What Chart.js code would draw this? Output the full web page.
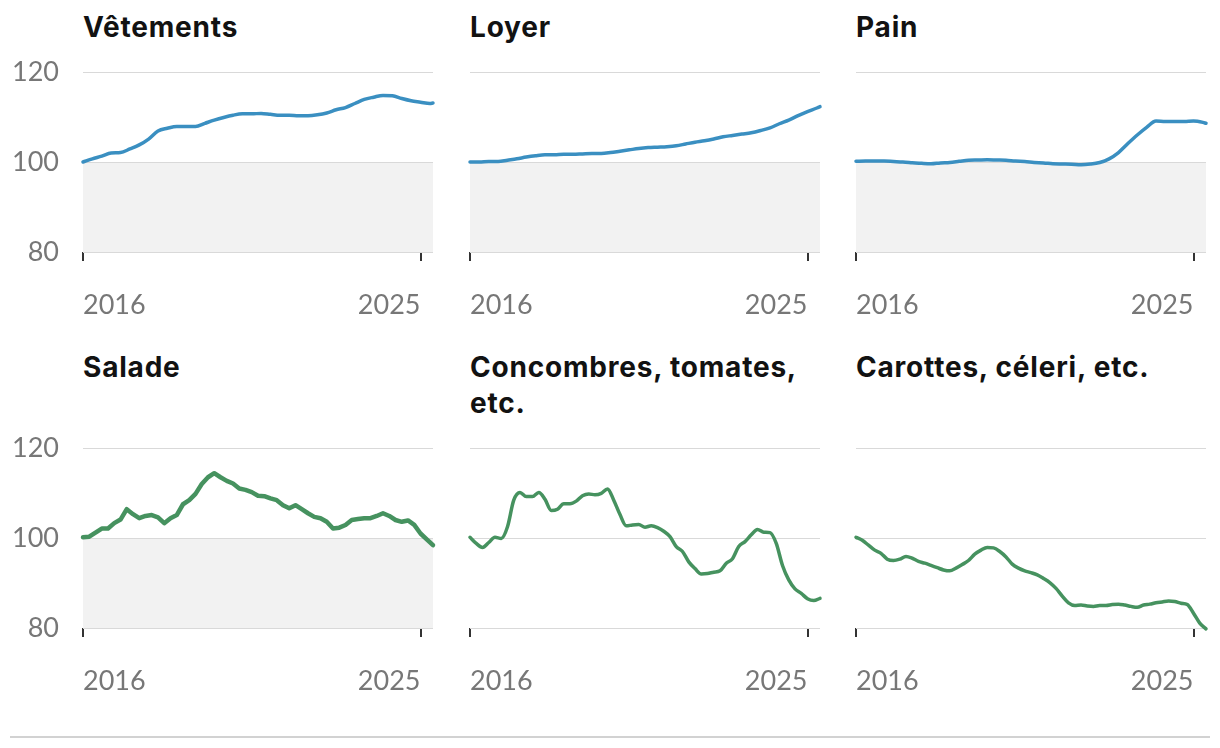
<!DOCTYPE html>
<html>
<head>
<meta charset="utf-8">
<script src="https://cdn.jsdelivr.net/npm/chart.js@4/dist/chart.umd.min.js"></script>
<style>
  body { margin: 0; background: #fff; width: 1220px; height: 748px; position: relative; overflow: hidden; }
  canvas.panel { position: absolute; }
  .title { position: absolute; font: 700 28px/36px Inter, sans-serif; color: #121212; white-space: nowrap; letter-spacing: 0.8px; }
  .rule { position: absolute; left: 10px; top: 736px; width: 1200px; height: 2px; background: #d2d2d2; }
</style>
</head>
<body>
<div class="title" style="left:83px;top:9px">Vêtements</div>
<div class="title" style="left:470px;top:9px">Loyer</div>
<div class="title" style="left:856px;top:9px">Pain</div>
<div class="title" style="left:83px;top:349px">Salade</div>
<div class="title" style="left:470px;top:349px">Concombres, tomates,<br>etc.</div>
<div class="title" style="left:856px;top:349px">Carottes, céleri, etc.</div>
<canvas class="panel" id="c0" width="440" height="330" style="left:0px;top:0px"></canvas>
<canvas class="panel" id="c1" width="440" height="330" style="left:387px;top:0px"></canvas>
<canvas class="panel" id="c2" width="440" height="330" style="left:773px;top:0px"></canvas>
<canvas class="panel" id="c3" width="440" height="330" style="left:0px;top:376px"></canvas>
<canvas class="panel" id="c4" width="440" height="330" style="left:387px;top:376px"></canvas>
<canvas class="panel" id="c5" width="440" height="330" style="left:773px;top:376px"></canvas>
<div class="rule"></div>
<script>
// ---- Data ----
const X_TICKS = [2016, 2025];
const Y_TICKS = [80, 100, 120];

const monthsQuarterly = [
  "2016-01","2016-04","2016-07","2016-10","2017-01","2017-04","2017-07","2017-10",
  "2018-01","2018-04","2018-07","2018-10","2019-01","2019-04","2019-07","2019-10",
  "2020-01","2020-04","2020-07","2020-10","2021-01","2021-04","2021-07","2021-10",
  "2022-01","2022-04","2022-07","2022-10","2023-01","2023-04","2023-07","2023-10",
  "2024-01","2024-04","2024-07","2024-10","2025-01","2025-04","2025-05"
];
const monthsBimonthly = [
  "2016-01","2016-03","2016-05","2016-07","2016-09","2016-11",
  "2017-01","2017-03","2017-05","2017-07","2017-09","2017-11",
  "2018-01","2018-03","2018-05","2018-07","2018-09","2018-11",
  "2019-01","2019-03","2019-05","2019-07","2019-09","2019-11",
  "2020-01","2020-03","2020-05","2020-07","2020-09","2020-11",
  "2021-01","2021-03","2021-05","2021-07","2021-09","2021-11",
  "2022-01","2022-03","2022-05","2022-07","2022-09","2022-11",
  "2023-01","2023-03","2023-05","2023-07","2023-09","2023-11",
  "2024-01","2024-03","2024-05","2024-07","2024-09","2024-11",
  "2025-01","2025-03","2025-05"
];

const vetements = [100.0,100.7,101.3,102.0,102.1,102.9,103.8,105.1,106.9,107.5,107.9,107.9,107.9,108.6,109.3,109.9,
  110.4,110.7,110.7,110.8,110.6,110.4,110.4,110.3,110.3,110.5,110.9,111.6,112.1,113.0,113.9,114.4,
  114.8,114.7,114.1,113.6,113.3,113.0,113.1];
const loyer = [100.0,100.0,100.1,100.1,100.4,100.7,101.1,101.4,101.6,101.6,101.7,101.7,101.8,101.9,101.9,102.1,
  102.4,102.7,103.0,103.2,103.3,103.4,103.6,104.0,104.4,104.7,105.1,105.6,105.9,106.2,106.5,107.0,
  107.6,108.5,109.3,110.3,111.2,112.0,112.3];
const pain = [100.15,100.2,100.2,100.2,100.1,100.0,99.85,99.7,99.6,99.8,99.9,100.15,100.4,100.45,100.5,100.45,
  100.4,100.2,100.1,99.9,99.8,99.6,99.55,99.5,99.4,99.55,99.9,100.7,102.1,104.1,106.0,107.7,
  109.1,109.0,109.0,109.0,109.1,108.8,108.6];
const salade = [100.15,100.3,101.2,102.1,102.1,103.3,104.1,106.4,105.3,104.4,104.9,105.1,
  104.6,103.3,104.4,105.1,107.5,108.4,109.8,112.0,113.5,114.4,113.5,112.7,
  112.1,111.0,110.7,110.2,109.4,109.3,108.8,108.4,107.3,106.6,107.3,106.4,
  105.5,104.7,104.4,103.6,102.1,102.3,102.9,104.0,104.2,104.4,104.4,104.9,
  105.5,104.9,104.0,103.6,103.9,102.9,101.0,99.7,98.4];
const concombres = [100.15,98.8,97.9,99.0,100.15,99.9,102.5,108.4,110.1,109.2,109.2,110.1,
  108.6,106.1,106.4,107.6,107.6,108.2,109.4,109.8,109.6,109.9,110.9,108.4,
  105.2,102.7,102.9,103.0,102.4,102.7,102.3,101.5,100.3,98.1,97.0,94.7,
  93.2,92.0,92.1,92.4,92.7,94.4,95.4,98.1,99.2,100.7,101.9,101.3,
  101.2,98.8,93.9,90.7,88.7,87.7,86.5,86.1,86.6];
const carottes = [100.15,99.5,98.4,97.3,96.6,95.3,95.0,95.3,95.9,95.5,94.8,94.4,
  93.9,93.4,92.9,92.7,93.3,94.1,95.0,96.4,97.3,97.9,97.8,97.0,
  95.8,94.2,93.3,92.7,92.3,91.8,91.0,90.1,88.8,87.1,85.6,85.0,
  85.1,84.9,84.8,85.0,85.0,85.2,85.3,85.1,84.8,84.6,85.1,85.3,
  85.6,85.8,86.0,85.9,85.5,85.2,83.3,81.1,79.8];

const BLUE = '#3a8fc1';
const GREEN = '#46925f';

// ---- Helpers ----
function toYear(m) {
  const [y, mo] = m.split('-').map(Number);
  return y + (mo - 1) / 12;
}
const X_MIN = toYear(monthsBimonthly[0]);
const X_MAX = toYear(monthsBimonthly[monthsBimonthly.length - 1]);

const yTickFont = { family: 'Lato', size: 27, weight: '400' };
const xTickFont = { family: 'Lato', size: 27, weight: '400', lineHeight: '88px' };

function makePanel(id, months, values, color, width, showY, shade, smooth) {
  const pts = months.map((m, i) => ({ x: toYear(m), y: values[i] }));
  const line = {
    data: pts, borderColor: color, borderWidth: width, pointRadius: 0, fill: false,
    clip: 8, borderCapStyle: 'round', borderJoinStyle: 'round'
  };
  if (smooth) line.cubicInterpolationMode = 'monotone'; else line.tension = 0;
  const datasets = [line];
  if (shade) {
    datasets.push({
      data: [{ x: X_MIN, y: 100 }, { x: X_MAX, y: 100 }],
      borderWidth: 0, pointRadius: 0, fill: 'start', backgroundColor: '#f2f2f2'
    });
  }
  new Chart(document.getElementById(id), {
    type: 'line',
    data: { datasets },
    options: {
      responsive: false, animation: false, events: [],
      layout: { padding: { top: 72, right: 7, left: 0, bottom: 0 } },
      plugins: { legend: { display: false }, tooltip: { enabled: false }, filler: { drawTime: 'beforeDraw' } },
      scales: {
        x: {
          type: 'linear', min: X_MIN, max: X_MAX,
          afterBuildTicks: s => { s.ticks = X_TICKS.map(v => ({ value: v })); },
          grid: { drawOnChartArea: false, drawTicks: true, tickLength: 9, color: '#333', lineWidth: 2 },
          border: { display: false },
          ticks: { align: 'inner', padding: 0, maxRotation: 0, autoSkip: false, color: '#777',
                   font: xTickFont, callback: v => String(v) },
          afterFit: s => { s.height = 78; }
        },
        y: {
          min: 80, max: 120,
          afterBuildTicks: s => { s.ticks = Y_TICKS.map(v => ({ value: v })); },
          grid: { color: '#d9d9d9', lineWidth: 1, drawTicks: false },
          border: { display: false },
          ticks: { display: showY, padding: 24, color: '#777', font: yTickFont, callback: v => String(v) },
          afterFit: s => { s.width = 83; }
        }
      }
    }
  });
}

makePanel('c0', monthsQuarterly, vetements, BLUE, 3.5, true, true, true);
makePanel('c1', monthsQuarterly, loyer, BLUE, 3.5, false, true, true);
makePanel('c2', monthsQuarterly, pain, BLUE, 3.5, false, true, true);
makePanel('c3', monthsBimonthly, salade, GREEN, 4.5, true, true, false);
makePanel('c4', monthsBimonthly, concombres, GREEN, 3.5, false, false, true);
makePanel('c5', monthsBimonthly, carottes, GREEN, 3.5, false, false, true);
</script>
</body>
</html>
